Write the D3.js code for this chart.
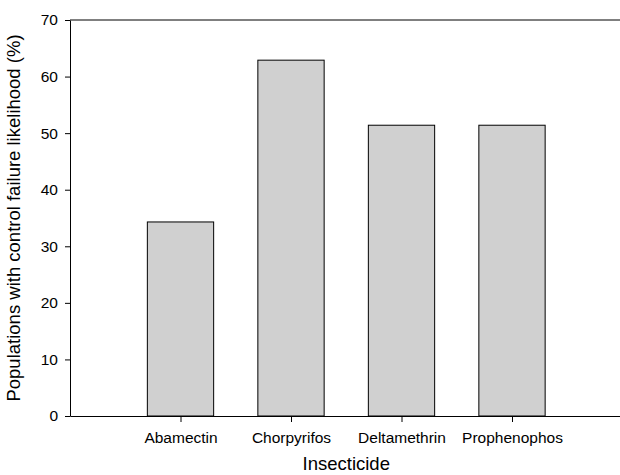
<!DOCTYPE html>
<html lang="en">
<meta charset="utf-8">
<style>
  body { margin: 0; background: #fff; font-family: Arial, 'Liberation Sans', sans-serif; }
  .axis path, .axis line { stroke: #000; }
  .axis text { font-size: 15.5px; fill: #000; font-family: Arial, 'Liberation Sans', sans-serif; }
  .bar { fill: #d0d0d0; stroke: #000; stroke-width: 1; }
</style>
<body>
<div id="chart"></div>
<script src="https://d3js.org/d3.v7.min.js"></script>
<script>
// data
var insecticides = ["Abamectin", "Chorpyrifos", "Deltamethrin", "Prophenophos"];
var failurePct = [34.3, 62.9, 51.4, 51.4];
var yTicks = [0, 10, 20, 30, 40, 50, 60, 70];

var width = 620,
    height = 475;

var svg = d3.select("#chart").append("svg")
    .attr("width", width)
    .attr("height", height);

// positions 1..4 on a 0..5 axis, right end runs off the picture
var x = d3.scaleLinear()
    .domain([0, 5])
    .range([70, 622.5]);

var y = d3.scaleLinear()
    .domain([0, 70])
    .range([416, 20]);

var barW = (x(1) - x(0)) * 0.6;

// bars
svg.append("g")
  .selectAll("rect")
    .data(failurePct)
  .enter().append("rect")
    .attr("class", "bar")
    .attr("x", function(d, i) { return x(i + 1) - barW / 2; })
    .attr("y", function(d) { return y(d); })
    .attr("width", barW)
    .attr("height", function(d) { return y(0) - y(d); });

// top frame line
svg.append("line")
    .attr("x1", x(0)).attr("x2", x(5))
    .attr("y1", y(70)).attr("y2", y(70))
    .attr("stroke", "#000");

// y axis
svg.append("g")
    .attr("class", "axis")
    .attr("transform", "translate(" + x(0) + ",0)")
    .call(d3.axisLeft(y).tickValues(yTicks).tickSize(5).tickSizeOuter(0).tickPadding(7));

// x axis
svg.append("g")
    .attr("class", "axis")
    .attr("transform", "translate(0," + y(0) + ")")
    .call(d3.axisBottom(x)
      .tickValues([1, 2, 3, 4])
      .tickFormat(function(d) { return insecticides[d - 1]; })
      .tickSize(6).tickSizeOuter(0).tickPadding(10));

// axis titles
svg.append("text")
    .attr("x", (x(0) + x(5)) / 2)
    .attr("y", 470)
    .attr("text-anchor", "middle")
    .style("font-size", "18.5px")
    .text("Insecticide");

svg.append("text")
    .attr("transform", "translate(20," + (y(35)) + ") rotate(-90)")
    .attr("text-anchor", "middle")
    .style("font-size", "18.5px")
    .text("Populations with control failure likelihood (%)");
</script>
</body>
</html>
